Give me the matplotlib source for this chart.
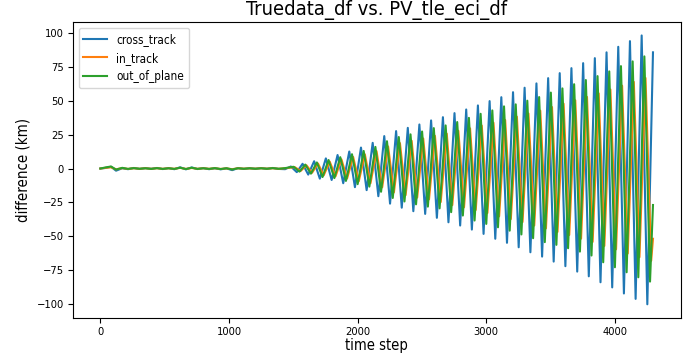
import matplotlib.pyplot as plt
import numpy as np

plt.rcParams['font.family'] = 'DejaVu Sans'
plt.rcParams['font.stretch'] = 'condensed'

# quiet stretch before the divergence (shared sample times)
t_flat = [0, 40, 83, 122, 170, 215, 260, 305, 350, 395, 440, 485, 530, 575, 620, 665, 710,
          755, 800, 845, 890, 935, 980, 1025, 1070, 1115, 1160, 1205, 1250, 1295, 1340, 1385, 1436]
cross_flat = [0, 0.4, 1.3, -1.6, 0.2, -0.5, 0.4, -0.3, 0.3, -0.2, 0.4, -0.4, 0.3, -0.5, 0.9, -0.6, 0.8,
              -0.4, 0.3, -0.5, 0.2, -0.6, 0.1, -1.2, 0.3, -0.3, 0.2, -0.2, 0.3, -0.2, 0.4, -0.3, -0.5]
in_flat = [0, 0.5, 0.9, -0.6, 0.3, -0.3, 0.2, -0.2, 0.2, -0.2, 0.2, -0.2, 0.2, -0.2, 0.5, -0.3, 0.4,
           -0.2, 0.2, -0.2, 0.2, -0.3, 0.1, -0.5, 0.2, -0.1, 0.1, -0.1, 0.2, -0.1, 0.2, -0.2, 0.2]
out_flat = [0, 0.8, 1.5, -0.8, 0.5, -0.3, 0.3, -0.2, 0.2, -0.3, 0.3, -0.3, 0.2, -0.3, 0.6, -0.4, 0.6,
            -0.3, 0.2, -0.3, 0.3, -0.4, 0.2, -0.7, 0.2, -0.2, 0.2, -0.2, 0.2, -0.2, 0.3, -0.2, 0.3]

# peaks / troughs of the growing oscillation
t_cross = [1481, 1527, 1572, 1616, 1662, 1706, 1753, 1798, 1844, 1888, 1935, 1979, 2026, 2070,
           2117, 2161, 2207, 2252, 2299, 2343, 2390, 2433, 2480, 2525, 2571, 2616, 2663, 2706,
           2753, 2797, 2844, 2888, 2935, 2979, 3026, 3070, 3117, 3161, 3208, 3252, 3298, 3343,
           3390, 3434, 3481, 3524, 3571, 3615, 3662, 3707, 3753, 3797, 3844, 3888, 3935, 3979,
           4026, 4070, 4117, 4161, 4208, 4252, 4296]
cross_track = [1.5, -2.7, 3.5, -4.5, 5.4, -7.5, 7.5, -8.5, 10, -10.9, 12.6, -13.8, 15.5, -16,
               19, -20.5, 24, -26, 27.7, -29, 30.1, -31.6, 32.6, -33.6, 35.6, -36.5, 38, -39.8,
               41, -42.2, 43.7, -45.2, 46.7, -48.4, 49.9, -52, 52.8, -55, 56.5, -58.3, 59.8, -62,
               63, -65.2, 66.9, -68.9, 70.6, -72.3, 74.3, -76.3, 78, -79.8, 81.7, -84.2, 86, -88,
               90.1, -92.5, 94.3, -96.5, 98.5, -100.5, 86]

t_in = [1511, 1557, 1602, 1646, 1692, 1736, 1783, 1828, 1874, 1918, 1965, 2009, 2056, 2100,
        2147, 2191, 2237, 2282, 2329, 2373, 2420, 2463, 2510, 2555, 2601, 2646, 2693, 2736,
        2783, 2827, 2874, 2918, 2965, 3009, 3056, 3100, 3147, 3191, 3238, 3282, 3328, 3373,
        3420, 3464, 3511, 3554, 3601, 3645, 3692, 3737, 3783, 3827, 3874, 3918, 3965, 4009,
        4056, 4100, 4147, 4191, 4238, 4282, 4296]
in_track = [1.0, -1.8, 2.4, -3.1, 3.7, -5.1, 5.1, -5.8, 6.8, -7.4, 8.6, -9.4, 10.5, -10.9,
            12.9, -13.9, 16.3, -17.7, 18.8, -19.7, 20.5, -21.5, 22.2, -22.8, 24.2, -24.8, 25.8, -27.1,
            27.9, -28.7, 29.7, -30.7, 31.8, -32.9, 33.9, -35.4, 35.9, -37.4, 38.4, -39.6, 40.7, -42.2,
            42.8, -44.3, 45.5, -46.9, 48, -49.2, 50.5, -51.9, 53, -54.3, 55.6, -57.3, 58.5, -59.8,
            61.3, -62.9, 64.1, -65.6, 67, -68.3, -52]

t_out = [1502, 1548, 1593, 1637, 1683, 1727, 1774, 1819, 1865, 1909, 1956, 2000, 2047, 2091,
         2138, 2182, 2228, 2273, 2320, 2364, 2411, 2454, 2501, 2546, 2592, 2637, 2684, 2727,
         2774, 2818, 2865, 2909, 2956, 3000, 3047, 3091, 3138, 3182, 3229, 3273, 3319, 3364,
         3411, 3455, 3502, 3545, 3592, 3636, 3683, 3728, 3774, 3818, 3865, 3909, 3956, 4000,
         4047, 4091, 4138, 4182, 4229, 4273, 4296]
out_of_plane = [1.3, -2.3, 2.9, -3.8, 4.5, -6.3, 6.3, -7.1, 8.4, -9.2, 10.6, -11.6, 13, -13.4,
                16, -17.2, 20.2, -21.8, 23.3, -24.4, 25.3, -26.5, 27.4, -28.2, 29.9, -29.5, 31.9, -32.3,
                34.4, -34.8, 37.5, -38.5, 40.5, -41, 43, -43.5, 46, -46, 47.5, -48.8, 50.2, -51.6,
                52.9, -54.5, 56.2, -56.5, 59.3, -59, 62.4, -61.5, 65.5, -64.4, 68.4, -69.4, 71.9, -73.1,
                75.8, -76.8, 79.3, -80.5, 83, -83.7, -27]

fig = plt.figure(figsize=(6.9, 3.55), dpi=100)
ax = fig.add_axes([0.1054, 0.105, 0.881, 0.833])

ax.plot(t_flat + t_cross, cross_flat + cross_track, label='cross_track', lw=1.5)
ax.plot(t_flat + t_in, in_flat + in_track, label='in_track', lw=1.5)
ax.plot(t_flat + t_out, out_flat + out_of_plane, label='out_of_plane', lw=1.5)

ax.set_yticks(np.arange(-100, 101, 25))
ax.tick_params(labelsize=8, pad=3)
ax.set_title('Truedata_df vs. PV_tle_eci_df', fontsize=14.5, pad=5)
ax.set_xlabel('time step', fontsize=10.5, labelpad=1)
ax.set_ylabel('difference (km)', fontsize=10.8)
ax.legend(loc='upper left', fontsize=8.5)

plt.savefig('out.png')
